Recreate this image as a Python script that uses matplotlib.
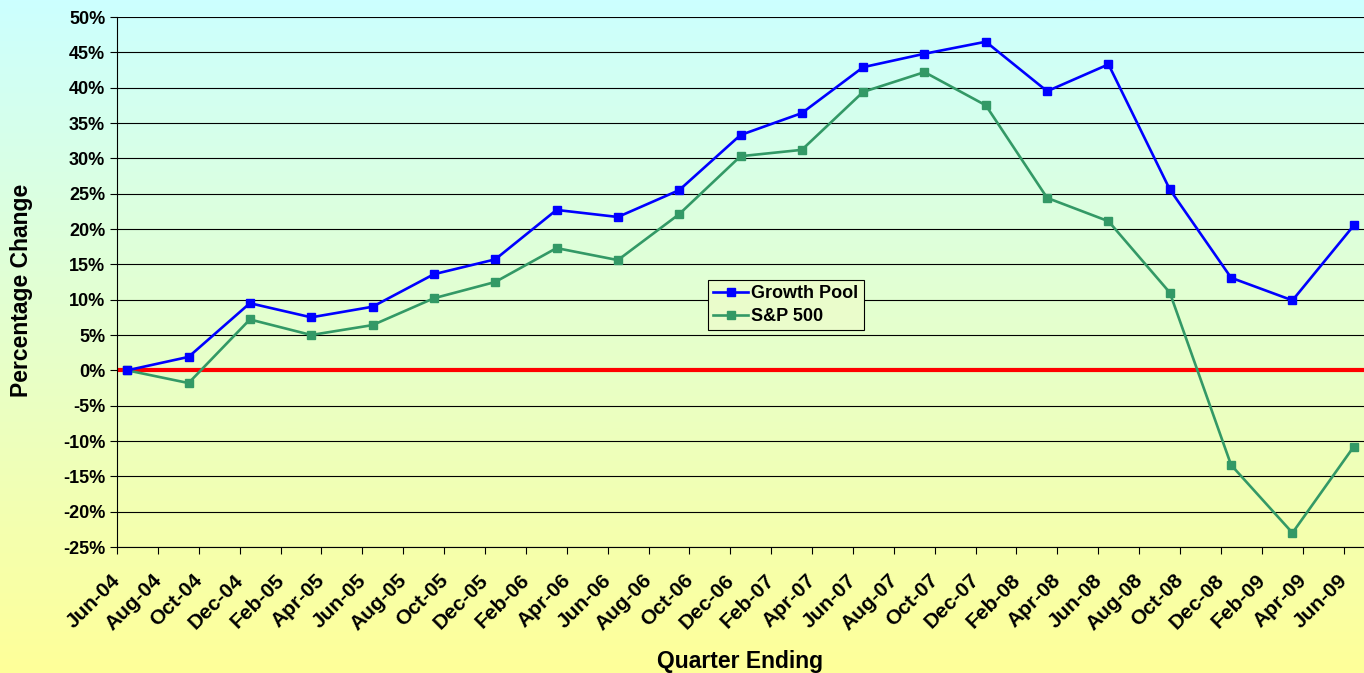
import matplotlib.pyplot as plt
import matplotlib.transforms as mtransforms
import numpy as np
from matplotlib.colors import LinearSegmentedColormap

# Quarterly values, Jun-04 .. Jun-09 (percent change since Jun-04)
growth_pool = [0.0, 1.9, 9.5, 7.5, 9.0, 13.6, 15.7, 22.7, 21.7, 25.5, 33.3,
               36.4, 42.9, 44.8, 46.5, 39.5, 43.3, 25.6, 13.1, 9.9, 20.5]
sp500 = [0.0, -1.8, 7.2, 5.0, 6.4, 10.2, 12.5, 17.3, 15.6, 22.1, 30.3,
         31.2, 39.4, 42.2, 37.5, 24.4, 21.1, 11.0, -13.4, -23.0, -10.8]

month_names = ['Jan', 'Feb', 'Mar', 'Apr', 'May', 'Jun', 'Jul', 'Aug',
               'Sep', 'Oct', 'Nov', 'Dec']
tick_labels = []
for k in range(31):
    m = 5 + 2 * k
    tick_labels.append(f"{month_names[m % 12]}-{4 + m // 12:02d}")

plt.rcParams['font.family'] = ['Liberation Sans', 'DejaVu Sans']
plt.rcParams['font.weight'] = 'bold'

fig = plt.figure(figsize=(13.64, 6.73), dpi=100)

# gradient background over the whole figure
bg = fig.add_axes([0, 0, 1, 1])
cmap = LinearSegmentedColormap.from_list('bg', ['#CCFFFF', '#FFFF99'])
bg.imshow(np.linspace(0, 1, 256).reshape(-1, 1), aspect='auto', cmap=cmap,
          extent=[0, 1, 0, 1])
bg.axis('off')

ax = fig.add_axes([117 / 1364, 1 - 547 / 673, 1 - 117 / 1364, 530 / 673])
ax.patch.set_alpha(0)

x = np.arange(len(growth_pool)) * 3 + 0.5
ax.plot(x, growth_pool, color='#0000FF', lw=1.9, marker='s', ms=6,
        label='Growth Pool', zorder=4)
ax.plot(x, sp500, color='#339966', lw=1.9, marker='s', ms=6,
        label='S&P 500', zorder=3)
ax.axhline(0, color='#FF0000', lw=3, zorder=2)

ax.set_xlim(0, 61)
ax.set_ylim(-25, 50)
ax.set_yticks(np.arange(-25, 51, 5))
ax.set_yticklabels([f"{v}%" for v in range(-25, 51, 5)], fontsize=13, fontweight='bold')
ax.set_xticks(np.arange(0, 61, 2))
ax.set_xticklabels(tick_labels, rotation=45, ha='right', rotation_mode='anchor',
                   fontsize=15, fontweight='bold')
ax.tick_params(axis='both', direction='out', length=5, color='black')
ax.tick_params(axis='x', pad=9)
shift = mtransforms.ScaledTranslation(-6 / 100, -4 / 100, fig.dpi_scale_trans)
for lab in ax.get_xticklabels():
    lab.set_transform(lab.get_transform() + shift)
ax.grid(axis='y', color='black', lw=0.8)
ax.set_axisbelow(True)
for s in ['top', 'right']:
    ax.spines[s].set_visible(False)

ax.set_ylabel('Percentage Change', fontsize=16.5, fontweight='bold')
ax.set_xlabel('Quarter Ending', fontsize=16.5, fontweight='bold')
ax.yaxis.set_label_coords((33 - 117) / 1247, (547 - 290) / 530)
ax.xaxis.set_label_coords((740 - 117) / 1247, -(650 - 547) / 530)

leg = ax.legend(loc='upper left', bbox_to_anchor=((708 - 117) / 1247, 1 - (280 - 17) / 530),
                frameon=True, fancybox=False, facecolor='#EAFCCB', borderaxespad=0,
                edgecolor='black', framealpha=1, prop={'size': 13, 'weight': 'bold'},
                handlelength=1.9, borderpad=0.3, labelspacing=0.3, handletextpad=0.2)
leg.get_frame().set_linewidth(0.8)

fig.savefig('out.png', dpi=100)
